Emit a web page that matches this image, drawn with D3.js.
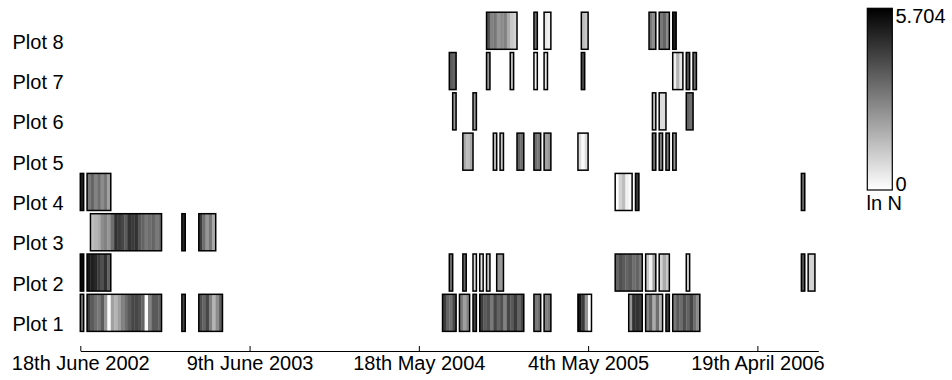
<!DOCTYPE html>
<html>
<head>
<meta charset="utf-8">
<script src="https://cdn.jsdelivr.net/npm/d3@7"></script>
<style>
  body { margin: 0; background: #fff; }
  svg text { font-family: "Liberation Sans", Arial, sans-serif; font-size: 20px; fill: #000; }
</style>
</head>
<body>
<script>
const w = 952;
const h = 380;

const rows = ['Plot 8', 'Plot 7', 'Plot 6', 'Plot 5', 'Plot 4', 'Plot 3', 'Plot 2', 'Plot 1'];
const tickValues = [0, 50, 100, 150, 200];
const tickLabels = ['18th June 2002', '9th June 2003', '18th May 2004', '4th May 2005', '19th April 2006'];
const maxLnN = 5.704;

// each run: [first sample index, ln N for each consecutive sample]
const plot1 = [
  [0, [3.24]],
  [2, [4.36, 3.69, 3.24, 3.02, 3.69, 2.35, 0.11, 2.13, 1.68, 2.13, 2.80, 3.24, 3.69, 4.14, 4.14, 3.91, 3.47, 0.11, 2.80, 3.69, 3.69, 3.47]],
  [30, [4.14]],
  [35, [3.91, 3.47, 4.14, 2.80, 1.68, 2.57, 3.69]],
  [107, [4.36, 3.47, 3.24, 4.14]],
  [112, [3.02, 2.13, 2.80]],
  [116, [4.14]],
  [118, [4.36, 3.69, 3.91, 3.02, 4.14, 3.47, 3.91, 2.80, 4.14, 3.69, 4.36, 3.47, 4.14]],
  [134, [3.02, 3.24]],
  [137, [2.80, 3.02]],
  [147, [5.26, 4.36, 2.35, 0.0]],
  [162, [2.35, 4.59, 4.59, 4.36]],
  [167, [2.80, 3.47, 1.90, 3.24, 1.68]],
  [173, [4.36]],
  [175, [3.02, 3.69, 3.24, 3.91, 3.47, 4.14, 3.24, 2.57]]
];
const plot2 = [
  [0, [5.48]],
  [2, [5.26, 5.03, 4.81, 4.36, 3.91, 4.59, 3.47]],
  [109, [3.24]],
  [113, [3.47]],
  [116, [0.78]],
  [118, [0.56]],
  [120, [1.23]],
  [123, [2.35, 2.35]],
  [158, [3.47, 3.91, 3.69, 3.47, 3.69, 3.24, 3.47, 3.02]],
  [167, [1.23, 0.34, 2.13]],
  [171, [1.01, 1.90, 1.23]],
  [179, [1.01]],
  [213, [3.91]],
  [215, [1.01, 1.01]]
];
const plot3 = [
  [3, [1.45, 1.68, 1.90, 2.57, 2.80, 2.35, 3.24, 4.59, 4.36, 4.14, 3.69, 4.59, 4.36, 4.59, 3.69, 3.47, 3.02, 3.24, 3.47, 3.02, 3.24]],
  [30, [4.81]],
  [35, [4.36, 3.24, 2.35, 3.02, 1.90]]
];
const plot4 = [
  [0, [5.03]],
  [2, [3.02, 3.47, 2.80, 3.24, 2.57, 3.02, 2.13]],
  [158, [0.0, 1.01, 1.45, 0.34, 0.11]],
  [164, [4.36]],
  [213, [3.47]]
];
const plot5 = [
  [113, [1.90, 1.45, 1.90]],
  [122, [1.45]],
  [124, [1.23]],
  [129, [3.47, 3.24]],
  [134, [3.24, 3.02]],
  [137, [2.13, 2.35]],
  [147, [0.78, 0.11, 0.78]],
  [169, [3.24]],
  [171, [2.80]],
  [173, [3.02]],
  [175, [2.35]]
];
const plot6 = [
  [110, [2.35]],
  [116, [2.35]],
  [169, [1.45]],
  [171, [0.78, 0.78]],
  [179, [3.47, 3.24]]
];
const plot7 = [
  [109, [3.69, 3.47]],
  [120, [2.35]],
  [127, [1.45]],
  [134, [0.34]],
  [137, [0.56]],
  [148, [4.14]],
  [175, [0.34, 1.68, 0.56]],
  [179, [3.91]],
  [181, [3.24]]
];
const plot8 = [
  [120, [3.91, 2.80, 3.02, 2.35, 2.57, 2.80, 1.90, 1.23, 1.01]],
  [134, [3.24]],
  [137, [0.56, 0.34]],
  [148, [1.45, 1.23]],
  [168, [3.02, 2.57]],
  [171, [3.02, 3.47, 2.57]],
  [175, [5.03]]
];

const plotRuns = {
  'Plot 1': plot1, 'Plot 2': plot2, 'Plot 3': plot3, 'Plot 4': plot4,
  'Plot 5': plot5, 'Plot 6': plot6, 'Plot 7': plot7, 'Plot 8': plot8
};

const x = d3.scaleLinear().domain([0, 218]).range([80.3, 818.3]);
const y = d3.scaleBand().domain(rows).range([9.0, 334.6]).padding(0.08);
const color = d3.scaleLinear().domain([0, maxLnN]).range(['#ffffff', '#000000']);
const cellW = x(1) - x(0);

const svg = d3.select('body')
  .append('svg')
  .attr('width', w)
  .attr('height', h);

rows.forEach((name) => {
  const g = svg.append('g');
  plotRuns[name].forEach(([start, vals]) => {
    g.selectAll(null)
      .data(vals)
      .enter()
      .append('rect')
      .attr('x', (d, i) => x(start + i))
      .attr('y', y(name))
      .attr('width', cellW + 0.3)
      .attr('height', y.bandwidth())
      .attr('fill', (d) => color(d));
    g.append('rect')
      .attr('x', x(start))
      .attr('y', y(name))
      .attr('width', x(start + vals.length) - x(start))
      .attr('height', y.bandwidth())
      .attr('fill', 'none')
      .attr('stroke', '#000')
      .attr('stroke-width', 1.5);
  });
});

// row labels
svg.append('g')
  .selectAll('text')
  .data(rows)
  .enter()
  .append('text')
  .attr('x', 12.5)
  .attr('y', (d) => y(d) + y.bandwidth() - 0.5)
  .text((d) => d);

const xAxis = d3.axisBottom(x)
  .tickValues(tickValues)
  .tickFormat((d, i) => tickLabels[i])
  .tickSizeInner(-5)
  .tickSizeOuter(0)
  .tickPadding(5);

const axisG = svg.append('g')
  .attr('transform', 'translate(0,351)')
  .call(xAxis);
axisG.selectAll('text').attr('fill', null);
axisG.attr('font-size', null).attr('font-family', null);
axisG.selectAll('path, line').attr('stroke', '#000');

// colour bar
const defs = svg.append('defs');
const grad = defs.append('linearGradient')
  .attr('id', 'cbar')
  .attr('x1', 0).attr('y1', 1).attr('x2', 0).attr('y2', 0);
grad.append('stop').attr('offset', '0%').attr('stop-color', color(0));
grad.append('stop').attr('offset', '100%').attr('stop-color', color(maxLnN));

const cb = d3.scaleLinear().domain([0, maxLnN]).range([190, 8.3]);
svg.append('rect')
  .attr('x', 867.3)
  .attr('y', cb(maxLnN))
  .attr('width', 25)
  .attr('height', cb(0) - cb(maxLnN))
  .attr('fill', 'url(#cbar)')
  .attr('stroke', '#000')
  .attr('stroke-width', 1.2);
svg.append('text').attr('x', 895.5).attr('y', cb(maxLnN) + 15).text(String(maxLnN));
svg.append('text').attr('x', 895.5).attr('y', cb(0) + 0.7).text('0');
svg.append('text').attr('x', 866.5).attr('y', 210).text('ln N');
</script>
</body>
</html>
